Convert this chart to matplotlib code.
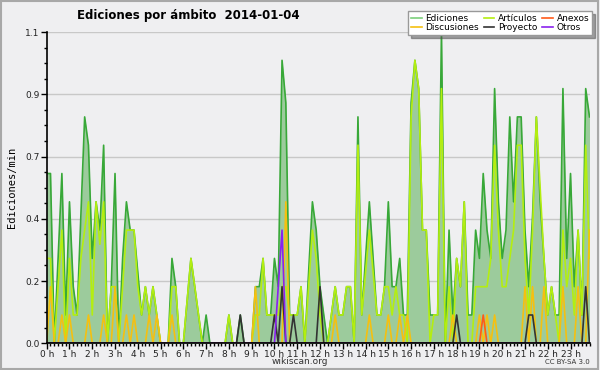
import numpy as np
import matplotlib
matplotlib.use("Agg")
import matplotlib.pyplot as plt
from matplotlib.ticker import FixedLocator, MultipleLocator, FuncFormatter
import matplotlib.patches as mpatches

title = "Ediciones por ámbito  2014-01-04"
series_names = ["Ediciones", "Artículos", "Discusiones", "Proyecto", "Anexos", "Otros"]
hour_labels = [f"{h} h" for h in range(24)]

# values per 10-minute bin (144 bins), edits/min
ediciones = [
    0.6, 0.6, 0, 0.3, 0.6, 0.1, 0.5, 0.2, 0.1, 0.45, 0.8, 0.7, 0.3, 0.5, 0.4, 0.7, 0, 0.2, 0.6, 0, 0.3, 0.5, 0.4, 0.4,
    0.25, 0.1, 0.2, 0.1, 0.2, 0.1, 0, 0, 0, 0.3, 0.2, 0, 0, 0.15, 0.3, 0.2, 0.1, 0, 0.1, 0, 0, 0, 0, 0,
    0.1, 0, 0, 0.1, 0, 0, 0, 0.2, 0.2, 0.3, 0.1, 0.1, 0.3, 0.2, 1.0, 0.85, 0.1, 0.1, 0.1, 0.2, 0, 0.25, 0.5, 0.4,
    0.2, 0.1, 0, 0.1, 0.2, 0.1, 0.1, 0.2, 0.2, 0, 0.8, 0.1, 0.3, 0.5, 0.3, 0.1, 0.1, 0.2, 0.5, 0.2, 0.2, 0.3, 0.1, 0.1,
    0.85, 1.0, 0.9, 0.4, 0.4, 0.1, 0.1, 0.1, 1.1, 0, 0.4, 0.1, 0.3, 0.2, 0.5, 0.1, 0.1, 0.4, 0.3, 0.6, 0.4, 0.3, 0.9, 0.5,
    0.3, 0.4, 0.8, 0.5, 0.8, 0.8, 0.4, 0.2, 0.45, 0.8, 0.5, 0.3, 0.1, 0.2, 0.1, 0.1, 0.9, 0.3, 0.6, 0.2, 0.4, 0.1, 0.9, 0.8,
]
articulos = [
    0.3, 0.3, 0, 0.2, 0.4, 0, 0.3, 0.1, 0.1, 0.3, 0.4, 0.5, 0.1, 0.5, 0.35, 0.5, 0, 0.2, 0.2, 0, 0.2, 0.4, 0.4, 0.4,
    0.2, 0.1, 0.2, 0.1, 0.2, 0.1, 0, 0, 0, 0.2, 0.2, 0, 0, 0.15, 0.3, 0.2, 0.1, 0, 0, 0, 0, 0, 0, 0,
    0.1, 0, 0, 0, 0, 0, 0, 0.1, 0.1, 0.3, 0.1, 0.1, 0.1, 0.1, 0.2, 0.2, 0.1, 0.1, 0.1, 0.2, 0, 0.2, 0.4, 0.3,
    0.1, 0, 0, 0.1, 0.2, 0.1, 0.1, 0.2, 0.2, 0, 0.7, 0.1, 0.25, 0.4, 0.25, 0.1, 0.1, 0.2, 0.2, 0.1, 0.2, 0.1, 0.1, 0,
    0.8, 1.0, 0.9, 0.4, 0.4, 0, 0.1, 0.1, 0.9, 0, 0.2, 0, 0.3, 0.2, 0.5, 0, 0, 0.2, 0.2, 0.2, 0.2, 0.3, 0.7, 0.4,
    0.2, 0.2, 0.3, 0.4, 0.7, 0.7, 0.3, 0.1, 0.4, 0.8, 0.55, 0.3, 0.1, 0.2, 0.1, 0, 0.4, 0.2, 0.3, 0.1, 0.4, 0.1, 0.7, 0.3,
]
discusiones = [
    0, 0.2, 0, 0, 0.1, 0, 0.1, 0, 0, 0, 0, 0.1, 0, 0, 0, 0.1, 0, 0, 0.2, 0, 0, 0.1, 0, 0.1,
    0, 0, 0, 0.1, 0, 0.1, 0, 0, 0, 0.1, 0, 0, 0, 0, 0, 0, 0, 0, 0, 0, 0, 0, 0, 0,
    0, 0, 0, 0, 0, 0, 0, 0.2, 0, 0, 0, 0, 0, 0, 0, 0.5, 0, 0, 0, 0, 0, 0, 0, 0,
    0, 0, 0, 0, 0.1, 0, 0, 0, 0, 0, 0, 0, 0, 0.1, 0, 0, 0, 0, 0.1, 0, 0, 0.1, 0, 0.1,
    0, 0, 0, 0, 0, 0, 0, 0, 0, 0, 0, 0.1, 0, 0, 0, 0, 0, 0, 0.1, 0, 0.1, 0, 0.1, 0,
    0, 0, 0, 0, 0, 0, 0.2, 0, 0.2, 0, 0, 0.2, 0, 0, 0, 0, 0.2, 0, 0, 0, 0.2, 0, 0, 0.4,
]
proyecto = [0.0] * 144
for k, v in {51: 0.1, 60: 0.1, 62: 0.2, 65: 0.1, 72: 0.2, 108: 0.1, 127: 0.1, 128: 0.1, 142: 0.2}.items():
    proyecto[k] = v
anexos = [0.0] * 144
anexos[115] = 0.1
otros = [0.0] * 144
otros[61] = 0.2
otros[62] = 0.4

t = np.arange(144) / 6.0

W, H = 600, 370
fig = plt.figure(figsize=(6, 3.7), dpi=100, facecolor="#efeff1")
ax = fig.add_axes([46.7 / W, (H - 343.3) / H, (589.5 - 46.7) / W, (343.3 - 32) / H])
ax.set_facecolor("#efeff1")

green_line = "#38a838"
ax.fill_between(t, ediciones, 0, color="#9ccb9c", lw=0, zorder=2)
ax.plot(t, ediciones, color=green_line, lw=1.2, zorder=3)
ax.plot(t, articulos, color="#b4ee10", lw=1.2, zorder=4)
ax.plot(t, discusiones, color="#f5c010", lw=1.2, zorder=5)
ax.plot(t, anexos, color="#ff5a1a", lw=1.2, zorder=6)
ax.plot(t, proyecto, color="#333333", lw=1.2, zorder=7)
ax.plot(t, otros, color="#8a22ee", lw=1.2, zorder=8)

ax.set_xlim(0, 143 / 6.0)
ax.set_ylim(0, 1.1)

ax.xaxis.set_major_locator(FixedLocator(range(24)))
ax.set_xticklabels(hour_labels)
ax.xaxis.set_minor_locator(MultipleLocator(1 / 6.0))
ymaj = np.linspace(0, 1.1, 6)
ax.yaxis.set_major_locator(FixedLocator(ymaj))
ax.yaxis.set_major_formatter(FuncFormatter(lambda v, p: f"{v:.1f}"))
ax.yaxis.set_minor_locator(FixedLocator(np.linspace(0, 1.1, 21)))
ax.tick_params(axis="both", which="major", length=4, width=1, labelsize=6.5, colors="black", pad=1)
ax.tick_params(axis="x", which="major", pad=0.5)
ax.tick_params(axis="both", which="minor", length=2.5, width=1)
for lab in ax.get_xticklabels() + ax.get_yticklabels():
    lab.set_color("#222222")

ax.grid(axis="y", which="major", color="#c8c8c8", lw=1, zorder=1)
for s in ["top", "right"]:
    ax.spines[s].set_visible(False)
for s in ["left", "bottom"]:
    ax.spines[s].set_linewidth(1.2)
    ax.spines[s].set_zorder(10)

ax.set_ylabel("Ediciones/min", family="DejaVu Sans Mono", fontsize=7.5, labelpad=6)

fig.text(188 / W, 1 - 15 / H, title, fontsize=8.5, fontweight="bold", ha="center", va="center")
fig.text(300 / W, 1 - 362 / H, "wikiscan.org", fontsize=6.5, ha="center", va="center", color="#333333")
fig.text(567 / W, 1 - 362 / H, "CC BY-SA 3.0", fontsize=5, ha="center", va="center", color="#333333")

colors = [green_line, "#b4ee10", "#f5c010", "#333333", "#ff5a1a", "#8a22ee"]
col_map = dict(zip(series_names, colors))
order = ["Ediciones", "Discusiones", "Artículos", "Proyecto", "Anexos", "Otros"]
legend_colors = {"Ediciones": "#7cd07c"}
handles = [plt.Line2D([], [], color=legend_colors.get(n, col_map[n]), lw=1.2) for n in order]
leg = fig.legend(handles, order, loc="upper right", bbox_to_anchor=(592 / W, 1 - 11 / H),
                 ncol=3, fontsize=6.5, frameon=True, fancybox=False, shadow=True,
                 handlelength=1.2, handletextpad=0.4, columnspacing=0.5, labelspacing=0.05,
                 borderpad=0.3, borderaxespad=0)
leg.get_frame().set_edgecolor("#999999")
leg.get_frame().set_linewidth(1)

fig.patches.append(mpatches.Rectangle((0.002, 0.003), 0.994, 0.994, transform=fig.transFigure,
                                      fill=False, edgecolor="#a8a8a8", lw=1.5))

fig.savefig("out.png", dpi=100, facecolor=fig.get_facecolor())
